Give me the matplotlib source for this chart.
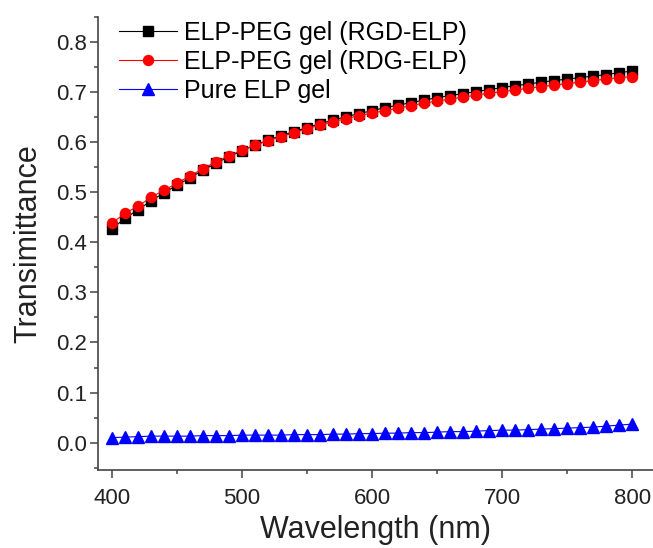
import numpy as np
import matplotlib
matplotlib.use("Agg")
import matplotlib.pyplot as plt
from matplotlib.ticker import MultipleLocator

plt.rcParams['font.family'] = ['Liberation Sans', 'DejaVu Sans']

# Longueurs d'onde (nm)
wavelength = [400, 410, 420, 430, 440, 450, 460, 470, 480, 490,
              500, 510, 520, 530, 540, 550, 560, 570, 580, 590,
              600, 610, 620, 630, 640, 650, 660, 670, 680, 690,
              700, 710, 720, 730, 740, 750, 760, 770, 780, 790, 800]

# ELP-PEG gel (RGD-ELP)
rgd = [0.427, 0.448, 0.465, 0.483, 0.499, 0.514, 0.529, 0.544, 0.558, 0.571,
       0.583, 0.594, 0.604, 0.613, 0.621, 0.629, 0.637, 0.644, 0.651, 0.657,
       0.663, 0.669, 0.674, 0.679, 0.684, 0.689, 0.693, 0.697, 0.701, 0.705,
       0.709, 0.713, 0.716, 0.720, 0.723, 0.726, 0.729, 0.732, 0.735, 0.739, 0.742]

# ELP-PEG gel (RDG-ELP)
rdg = [0.438, 0.458, 0.472, 0.490, 0.504, 0.518, 0.533, 0.547, 0.561, 0.573,
       0.584, 0.594, 0.603, 0.611, 0.619, 0.627, 0.634, 0.641, 0.647, 0.653,
       0.658, 0.663, 0.668, 0.673, 0.678, 0.682, 0.686, 0.690, 0.694, 0.698,
       0.701, 0.704, 0.708, 0.711, 0.714, 0.717, 0.720, 0.723, 0.726, 0.729, 0.731]

# Pure ELP gel
pure = [0.010, 0.011, 0.012, 0.013, 0.013, 0.013, 0.013, 0.014, 0.014, 0.014,
        0.015, 0.015, 0.015, 0.015, 0.016, 0.016, 0.016, 0.017, 0.017, 0.018,
        0.018, 0.019, 0.019, 0.020, 0.020, 0.021, 0.022, 0.022, 0.023, 0.024,
        0.025, 0.025, 0.026, 0.027, 0.028, 0.029, 0.030, 0.031, 0.033, 0.035, 0.037]

labels = ['ELP-PEG gel (RGD-ELP)', 'ELP-PEG gel (RDG-ELP)', 'Pure ELP gel']

fig = plt.figure(figsize=(6.53, 5.48), dpi=100)
ax = fig.add_axes([0.150, 0.142, 0.850, 0.827])

ax.plot(wavelength, rgd, color='black', marker='s', ms=6.5, lw=0.8, label=labels[0])
ax.plot(wavelength, rdg, color='red', marker='o', ms=7.2, lw=0.8, label=labels[1])
ax.plot(wavelength, pure, color='blue', marker='^', ms=8, lw=0.8, label=labels[2])

ax.set_xlim(389.2, 816)
ax.set_ylim(-0.055, 0.85)
ax.xaxis.set_major_locator(MultipleLocator(100))
ax.xaxis.set_minor_locator(MultipleLocator(50))
ax.yaxis.set_major_locator(MultipleLocator(0.1))
ax.yaxis.set_minor_locator(MultipleLocator(0.05))
ax.yaxis.set_major_formatter(plt.FormatStrFormatter('%.1f'))

for s in ['top', 'right']:
    ax.spines[s].set_visible(False)
for s in ['left', 'bottom']:
    ax.spines[s].set_color('#444444')
    ax.spines[s].set_linewidth(1.2)

ax.tick_params(which='major', direction='out', length=5.5, width=1.1, color='#444444',
               labelsize=16, labelcolor='#222222')
ax.tick_params(which='minor', direction='out', length=3, width=1.1, color='#444444')
ax.tick_params(axis='y', which='major', pad=2.5)
ax.tick_params(axis='x', which='major', pad=7)

ax.set_xlabel('Wavelength (nm)', fontsize=22, color='#222222', labelpad=5)
ax.set_ylabel('Transimittance', fontsize=22, color='#222222', labelpad=9)

ax.legend(loc='upper left', bbox_to_anchor=(0.02, 1.013), frameon=False, fontsize=18,
          handlelength=2.3, handletextpad=0.3, labelspacing=0.2, borderaxespad=0)

fig.savefig('out.png', dpi=100)
